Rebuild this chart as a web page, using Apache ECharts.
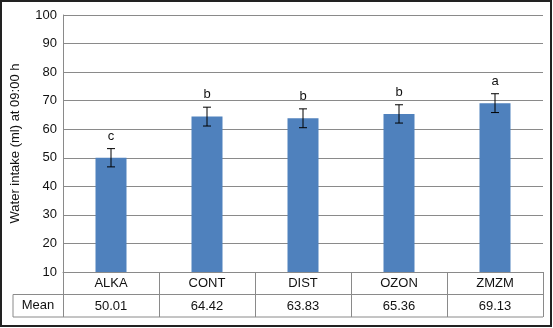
<!DOCTYPE html>
<html>
<head>
<meta charset="utf-8">
<script src="https://cdn.jsdelivr.net/npm/echarts@6/dist/echarts.min.js"></script>
<style>
  html, body { margin: 0; padding: 0; background: #fff; }
  #main { width: 553px; height: 328px; }
</style>
</head>
<body>
<div id="main"></div>
<script>
// data
var categories = ['ALKA', 'CONT', 'DIST', 'OZON', 'ZMZM'];
var means = [50.01, 64.42, 63.83, 65.36, 69.13];
var errors = [3.2, 3.3, 3.3, 3.2, 3.3];
var letters = ['c', 'b', 'b', 'b', 'a'];
var yTitle = 'Water intake (ml) at 09:00 h';
var rowLabel = 'Mean';

var W = 553, H = 328;
var gridLeft = 63, gridRight = 10, gridTop = 15, gridBottom = 56;
var rowH = 22.5;
var tableLeft = 13;
var lineColor = '#8a8a8a';
var font = 'Liberation Sans, Arial, sans-serif';

var chart = echarts.init(document.getElementById('main'));

var plotBottom = H - gridBottom;
var plotRight = W - gridRight;

var option = {
  animation: false,
  textStyle: { fontFamily: font },
  grid: {
    left: gridLeft, right: gridRight, top: gridTop, bottom: gridBottom,
    containLabel: false, outerBoundsMode: 'none'
  },
  xAxis: [{
    type: 'category',
    data: categories,
    boundaryGap: true,
    axisLine: { show: true, lineStyle: { color: lineColor } },
    axisTick: { show: true, length: rowH * 2, lineStyle: { color: lineColor } },
    axisLabel: { color: '#111', fontSize: 13, margin: 5, fontFamily: font }
  }, {
    type: 'category',
    data: categories,
    position: 'bottom',
    offset: rowH,
    axisLine: { show: true, lineStyle: { color: lineColor } },
    axisTick: { show: false },
    axisLabel: {
      color: '#111', fontSize: 13, margin: 5, fontFamily: font,
      formatter: function (v, i) { return means[i].toFixed(2); }
    }
  }],
  yAxis: {
    type: 'value',
    min: 10,
    max: 100,
    interval: 10,
    name: yTitle,
    nameLocation: 'middle',
    nameGap: 41,
    nameTextStyle: { color: '#111', fontSize: 13, fontFamily: font },
    axisLine: { show: true, lineStyle: { color: lineColor } },
    axisTick: { show: false },
    axisLabel: { color: '#111', fontSize: 13, margin: 6, fontFamily: font },
    splitLine: { lineStyle: { color: lineColor } }
  },
  series: [{
    type: 'bar',
    data: means,
    barWidth: 31,
    itemStyle: { color: '#4f81bd' }
  }, {
    type: 'custom',
    data: means.map(function (m, i) { return [i, m - errors[i], m + errors[i]]; }),
    renderItem: function (params, api) {
      var x = api.value(0);
      var lo = api.coord([x, api.value(1)]);
      var hi = api.coord([x, api.value(2)]);
      var cap = 4;
      var st = { stroke: '#000', lineWidth: 1 };
      return {
        type: 'group',
        children: [
          { type: 'line', shape: { x1: hi[0], y1: hi[1], x2: lo[0], y2: lo[1] }, style: st },
          { type: 'line', shape: { x1: hi[0] - cap, y1: hi[1], x2: hi[0] + cap, y2: hi[1] }, style: st },
          { type: 'line', shape: { x1: lo[0] - cap, y1: lo[1], x2: lo[0] + cap, y2: lo[1] }, style: st },
          { type: 'text', x: hi[0], y: hi[1] - 6,
            style: { text: letters[params.dataIndex], fill: '#111', font: '13px ' + font,
                     textAlign: 'center', textVerticalAlign: 'bottom' } }
        ]
      };
    },
    z: 5
  }],
  graphic: [
    { type: 'line', shape: { x1: tableLeft, y1: plotBottom + rowH, x2: gridLeft, y2: plotBottom + rowH },
      style: { stroke: lineColor, lineWidth: 1 } },
    { type: 'line', shape: { x1: tableLeft, y1: plotBottom + rowH * 2, x2: plotRight, y2: plotBottom + rowH * 2 },
      style: { stroke: lineColor, lineWidth: 1 } },
    { type: 'line', shape: { x1: tableLeft, y1: plotBottom + rowH, x2: tableLeft, y2: plotBottom + rowH * 2 },
      style: { stroke: lineColor, lineWidth: 1 } },
    { type: 'text', x: (tableLeft + gridLeft) / 2, y: plotBottom + rowH * 1.5,
      style: { text: rowLabel, fill: '#111', font: '13px ' + font, textAlign: 'center', textVerticalAlign: 'middle' } },
    { type: 'rect', shape: { x: 1, y: 1, width: W - 3, height: H - 3 },
      style: { fill: null, stroke: '#222', lineWidth: 2 }, z: 100 }
  ]
};

chart.setOption(option);
</script>
</body>
</html>
